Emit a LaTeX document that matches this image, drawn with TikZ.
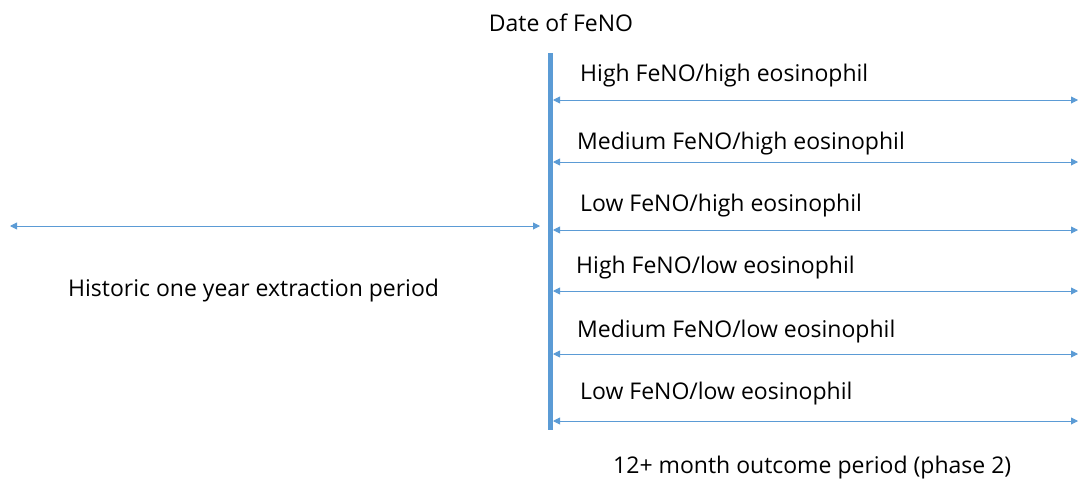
\documentclass[tikz,border=0pt]{standalone}
\usepackage{fontspec}
\setmainfont{Open Sans}
\usetikzlibrary{arrows.meta}
\definecolor{ablue}{HTML}{5B9BD5}
\begin{document}
\begin{tikzpicture}[x=1pt,y=-1pt,
  lbl/.style={font=\fontsize{23}{27}\selectfont, inner sep=0pt, anchor=west, text=black},
  arr/.style={draw=ablue, line width=0.9pt, {Triangle[length=7pt,width=7pt]}-{Triangle[length=7pt,width=7pt]}},
  bar/.style={draw=ablue, line width=5pt}]
\useasboundingbox (0,0) rectangle (1078,482);
\coordinate (bt) at (550.5,53);
\coordinate (bb) at (550.5,430);
\draw[bar] (bt) -- (bb);
\node[lbl, anchor=center] (date) at (561,23) {Date of FeNO};
\coordinate (hl) at (10,226);
\coordinate (hr) at (540,226);
\draw[arr] (hl) -- (hr);
\node[lbl] (hist) at (68,291) {Historic one year extraction period};
\foreach \i/\y/\ty/\tx/\t in {1/100/76/580/{High FeNO/high eosinophil},
  2/162/144/577/{Medium FeNO/high eosinophil},
  3/230/206/580/{Low FeNO/high eosinophil},
  4/291/268/576/{High FeNO/low eosinophil},
  5/354/332/577/{Medium FeNO/low eosinophil},
  6/421/394/580/{Low FeNO/low eosinophil}}{
  \coordinate (l\i) at (553,\y);
  \coordinate (r\i) at (1078,\y);
  \draw[arr] (l\i) -- (r\i);
  \node[lbl] (t\i) at (\tx,\ty) {\t};
}
\node[lbl] (out) at (613,468) {12+ month outcome period (phase 2)};
\end{tikzpicture}
\end{document}
